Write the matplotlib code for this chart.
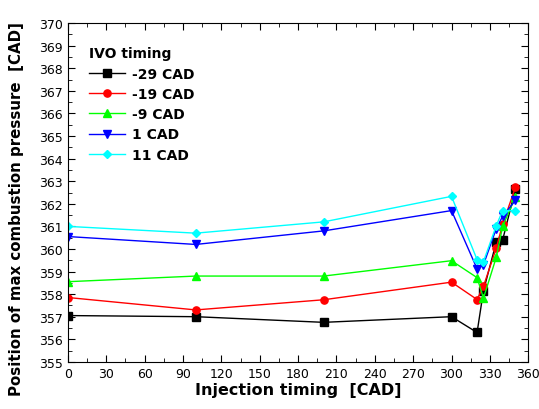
import matplotlib
matplotlib.use("Agg")
import matplotlib.pyplot as plt
from matplotlib.ticker import MultipleLocator

# data
inj_timing = [0, 100, 200, 300, 320, 325, 335, 340, 350]
ivo_m29 = [357.05, 357.0, 356.75, 357.0, 356.3, 358.15, 360.3, 360.4, 362.65]
ivo_m19 = [357.85, 357.3, 357.75, 358.53, 357.76, 358.35, 360.03, 361.1, 362.73]
ivo_m9 = [358.55, 358.8, 358.8, 359.48, 358.73, 357.82, 359.63, 361.0, 362.3]
ivo_1 = [360.55, 360.2, 360.8, 361.7, 359.12, 359.3, 360.9, 361.45, 362.15]
ivo_11 = [361.0, 360.7, 361.2, 362.33, 359.53, 359.44, 361.03, 361.7, 361.7]

series = [
    ("-29 CAD", ivo_m29, "black", "s"),
    ("-19 CAD", ivo_m19, "red", "o"),
    ("-9 CAD", ivo_m9, "#00ff00", "^"),
    ("1 CAD", ivo_1, "blue", "v"),
    ("11 CAD", ivo_11, "cyan", "D"),
]

fig = plt.figure(figsize=(5.39, 4.10), dpi=100)
ax = fig.add_axes([0.126, 0.115, 0.854, 0.826])

for label, vals, col, mk in series:
    ms = 4.5 if mk == "D" else 5.2
    ax.plot(inj_timing, vals, color=col, marker=mk, markersize=ms, linewidth=1, label=label)

ax.set_xlim(0, 360)
ax.set_ylim(355, 370)
ax.xaxis.set_major_locator(MultipleLocator(30))
ax.xaxis.set_minor_locator(MultipleLocator(15))
ax.yaxis.set_major_locator(MultipleLocator(1))
ax.yaxis.set_minor_locator(MultipleLocator(0.5))
ax.tick_params(which="both", direction="in", top=True, right=True, labelsize=9)
ax.tick_params(which="major", length=5)
ax.tick_params(which="minor", length=3)

ax.set_xlabel("Injection timing  [CAD]", fontsize=11.5, fontweight="bold", labelpad=2)
ax.set_ylabel("Position of max combustion pressure  [CAD]", fontsize=10.8, fontweight="bold")
ax.yaxis.set_label_coords(-0.095, 0.455)

leg = ax.legend(title="IVO timing", loc="upper left", frameon=False,
                prop={"weight": "bold", "size": 10}, bbox_to_anchor=(0.025, 0.96),
                handlelength=2.6, handletextpad=0.5, labelspacing=0.45, borderaxespad=0.3)
leg.get_title().set_fontweight("bold")
leg.get_title().set_fontsize(10)
leg._legend_box.align = "left"

plt.savefig("out.png", dpi=100)
